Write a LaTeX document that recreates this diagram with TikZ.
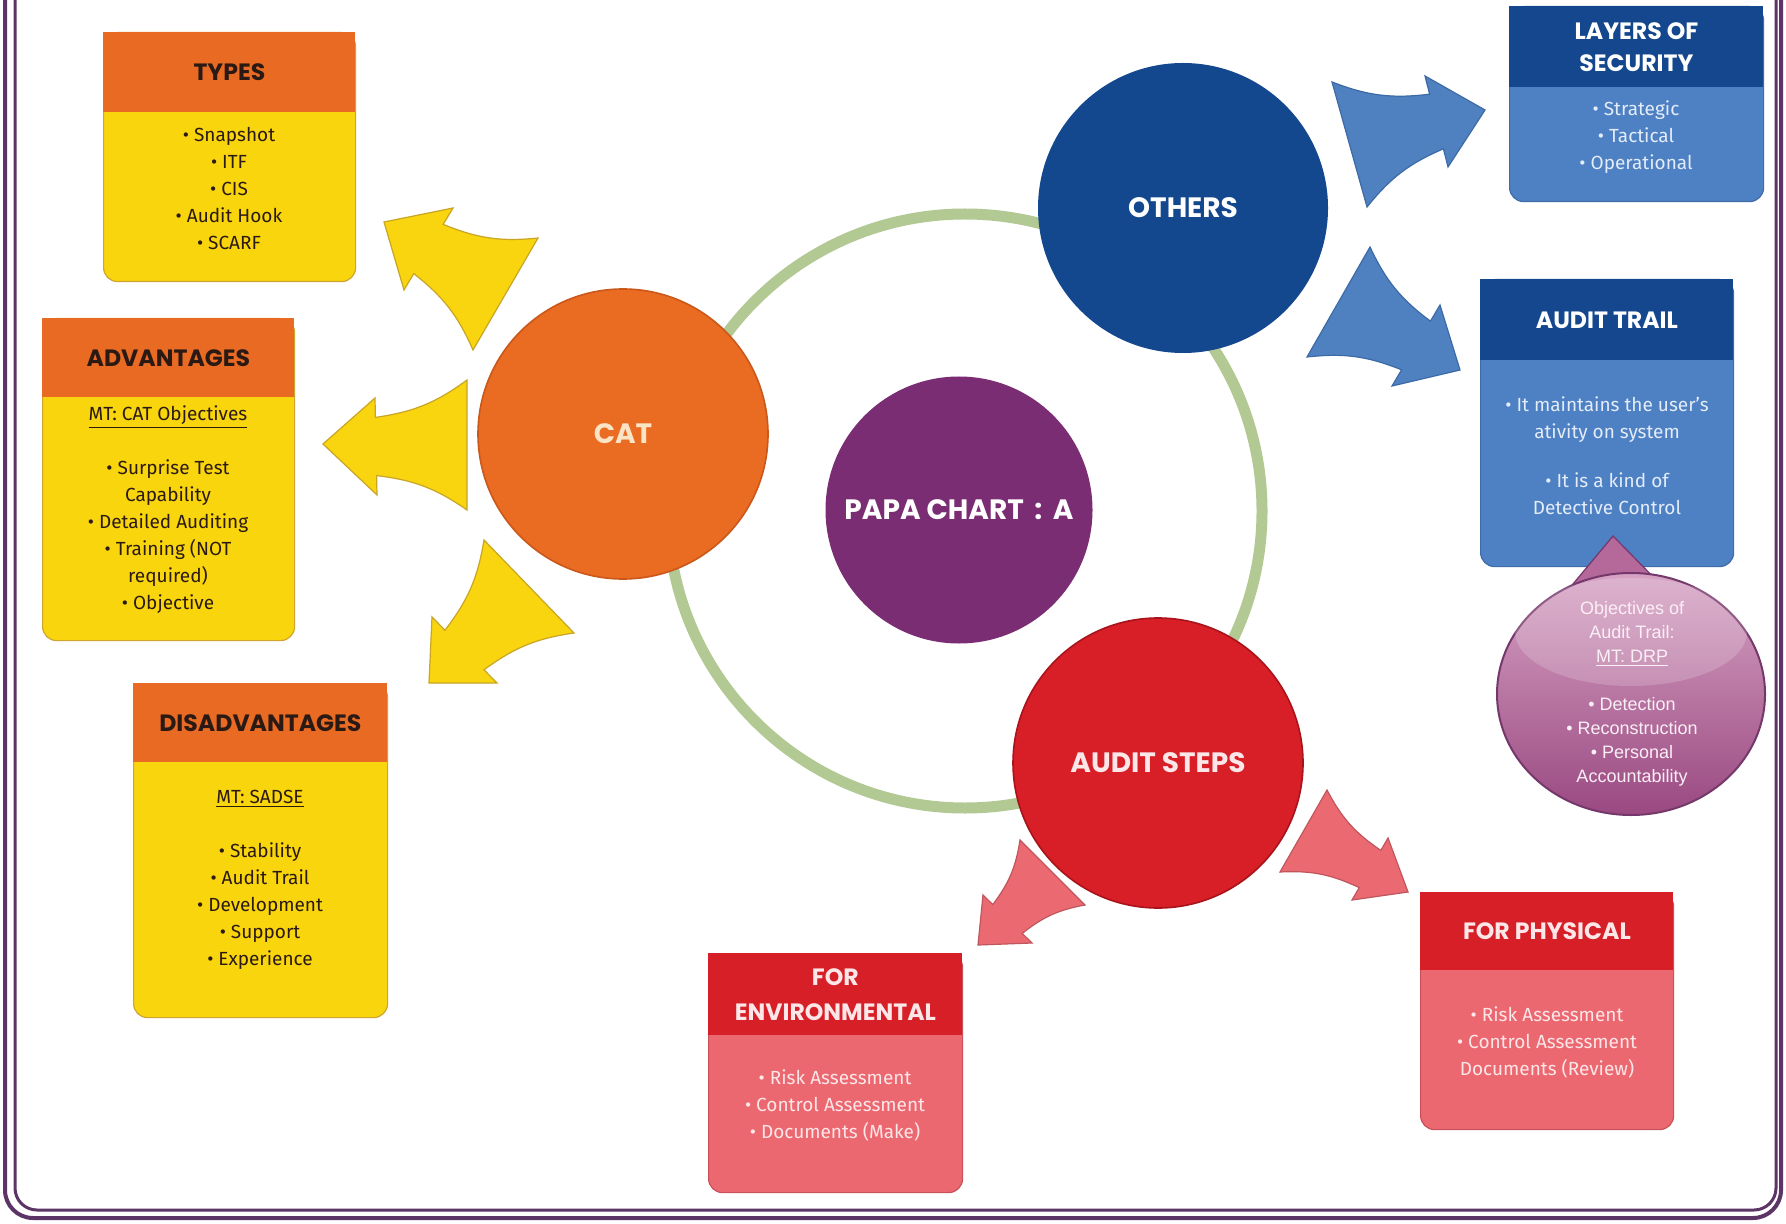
\documentclass[tikz,border=0pt]{standalone}
\usepackage{fontspec}
\setmainfont{Fira Sans}
\newfontfamily\headfont{Poppins}
\newfontfamily\arialfont{Liberation Sans}
\usetikzlibrary{shapes.geometric,calc}
\definecolor{orangeH}{HTML}{E96A23}
\definecolor{yellowB}{HTML}{F9D50E}
\definecolor{yellowE}{HTML}{CFA52E}
\definecolor{darktext}{HTML}{2B1A14}
\definecolor{blueH}{HTML}{14478E}
\definecolor{blueB}{HTML}{4E80C4}
\definecolor{blueE}{HTML}{3E6DAA}
\definecolor{redH}{HTML}{D71F27}
\definecolor{redB}{HTML}{EC6870}
\definecolor{redE}{HTML}{C8525A}
\definecolor{catC}{HTML}{EA6B22}
\definecolor{catE}{HTML}{C9581A}
\definecolor{papaC}{HTML}{7B2D74}
\definecolor{othersC}{HTML}{13488F}
\definecolor{stepsC}{HTML}{D81E26}
\definecolor{stepsE}{HTML}{A8141B}
\definecolor{ringC}{HTML}{B2C993}
\definecolor{frameC}{HTML}{5C3466}
\definecolor{arrowY}{HTML}{F8D50F}
\definecolor{arrowYE}{HTML}{C9A523}
\definecolor{arrowB}{HTML}{4F81C0}
\definecolor{arrowBE}{HTML}{3C6AA6}
\definecolor{arrowR}{HTML}{EB6A72}
\definecolor{arrowRE}{HTML}{C0565D}
\definecolor{bubTop}{HTML}{D6A3C4}
\definecolor{bubBot}{HTML}{9A4981}
\definecolor{bubEdge}{HTML}{74386B}
\definecolor{bubPtr}{HTML}{B5689A}
\definecolor{bubText}{HTML}{FBEFF6}
\definecolor{blueText}{HTML}{E3ECF8}
\definecolor{redText}{HTML}{FCE6E8}
\definecolor{catText}{HTML}{FBE3C6}
\tikzset{
 boxbody/.style={rectangle, rounded corners=7pt, line width=0.6pt, anchor=north west, inner sep=0pt},
 boxhead/.style={rectangle, anchor=north west, inner sep=0pt, align=center, font=\headfont\bfseries\fontsize{11.8}{16}\selectfont},
 bodytext/.style={align=center, inner sep=0pt, font=\fontsize{9.5}{13.5}\selectfont},
 bigcircle/.style={circle, inner sep=0pt, minimum size=145pt, font=\headfont\bfseries\fontsize{14}{16}\selectfont},
 yarrow/.style={fill=arrowY, draw=arrowYE, line width=0.6pt},
 barrow/.style={fill=arrowB, draw=arrowBE, line width=0.6pt},
 rarrow/.style={fill=arrowR, draw=arrowRE, line width=0.6pt},
}
\newcommand\blockarr[6]{\draw[#1] (#2) to[bend right=14] ($(#3)!0.2!(#5)$) -- (#3) -- (#4) -- (#5) -- ($(#5)!0.2!(#3)$) to[bend right=14] (#6) -- cycle;}
\begin{document}
\begin{tikzpicture}[x=0.5pt,y=-0.5pt]
\useasboundingbox (0,0) rectangle (1786,1224);
\fill[white] (0,0) rectangle (1786,1224);
% frame
\draw[frameC, line width=2pt, rounded corners=14pt] (5,-80) rectangle (1781,1218);
\draw[frameC, line width=1.5pt, rounded corners=11pt] (15,-80) rectangle (1776,1210);
% ring
\coordinate (ringc) at (965,511);
\draw[ringC, line width=5.5pt] (ringc) circle[radius=148.5pt];
% circles
\node[bigcircle, fill=catC, draw=catE, line width=0.8pt, text=catText] (cat) at (623,434) {CAT};
\node[bigcircle, fill=othersC, text=white] (others) at (1183,208) {OTHERS};
\node[bigcircle, minimum size=133.5pt, fill=papaC, text=white] (papa) at (959,510) {PAPA CHART \,:\, A};
\node[bigcircle, fill=stepsC, draw=stepsE, line width=0.8pt, text=redText] (steps) at (1158,763) {AUDIT STEPS};
% arrows
\blockarr{yarrow}{473,350}{404,290}{384,222}{453,208}{538,238}
\blockarr{yarrow}{467,510}{377,495}{323,444}{375,398}{467,380}
\blockarr{yarrow}{574,633}{497,683}{429,683}{432,617}{484,540}
\blockarr{barrow}{1332,82}{1425,76}{1485,110}{1448,167}{1367,207}
\blockarr{barrow}{1370,247}{1440,305}{1460,370}{1392,386}{1307,357}
\blockarr{rarrow}{1085,905}{1032,943}{978,945}{983,895}{1020,840}
\blockarr{rarrow}{1327,790}{1388,838}{1408,892}{1352,900}{1280,872}
% TYPES
\node[boxbody, fill=yellowB, draw=yellowE, minimum width=126pt, minimum height=124.5pt] (types) at (103,32) {};
\node[boxhead, fill=orangeH, text=darktext, minimum width=126pt, minimum height=40pt] (typesH) at (103,32) {TYPES};
\node[bodytext, text=darktext] (typesT) at (229,189) {• Snapshot\\• ITF\\• CIS\\• Audit Hook\\• SCARF};
% ADVANTAGES
\node[boxbody, fill=yellowB, draw=yellowE, minimum width=126pt, minimum height=161pt] (adv) at (42,318) {};
\node[boxhead, fill=orangeH, text=darktext, minimum width=126pt, minimum height=39.5pt] (advH) at (42,318) {ADVANTAGES};
\node[bodytext, text=darktext] (advT) at (168,510) {\underline{MT: CAT Objectives}\\[13.5pt]• Surprise Test\\Capability\\• Detailed Auditing\\• Training (NOT\\required)\\• Objective};
% DISADVANTAGES
\node[boxbody, fill=yellowB, draw=yellowE, minimum width=127pt, minimum height=167pt] (disadv) at (133,683) {};
\node[boxhead, fill=orangeH, text=darktext, minimum width=127pt, minimum height=39.5pt] (disadvH) at (133,683) {DISADVANTAGES};
\node[bodytext, text=darktext] (disadvT) at (260,880) {\underline{MT: SADSE}\\[13.5pt]• Stability\\• Audit Trail\\• Development\\• Support\\• Experience};
% LAYERS OF SECURITY
\node[boxbody, fill=blueB, draw=blueE, minimum width=127pt, minimum height=97.5pt] (layers) at (1509,6) {};
\node[boxhead, fill=blueH, text=white, minimum width=127pt, minimum height=40.5pt] (layersH) at (1509,6) {LAYERS OF\\SECURITY};
\node[bodytext, text=blueText] (layersT) at (1636,137) {• Strategic\\• Tactical\\• Operational};
% AUDIT TRAIL
\node[boxbody, fill=blueB, draw=blueE, minimum width=126.5pt, minimum height=143.5pt] (trail) at (1480,279) {};
\node[boxhead, fill=blueH, text=white, minimum width=126.5pt, minimum height=40.5pt] (trailH) at (1480,279) {AUDIT TRAIL};
\node[bodytext, text=blueText] (trailT) at (1607,456) {• It maintains the user's\\ativity on system\\[11pt]• It is a kind of\\Detective Control};
% bubble
\coordinate (ptip) at (1613,536);
\draw[fill=bubPtr, draw=bubEdge, line width=0.6pt] (ptip) -- (1666,590) -- (1558,602) -- cycle;
\node[ellipse, minimum width=134pt, minimum height=121pt, top color=bubTop, bottom color=bubBot, draw=bubEdge, line width=1pt, inner sep=0pt] (bubble) at (1631,694) {};
\fill[white, opacity=0.18] (1631,632) ellipse[x radius=58pt, y radius=27pt];
\node[align=center, inner sep=0pt, text=bubText, font=\arialfont\fontsize{9}{12}\selectfont] (bubbleT) at (1632,694) {Objectives of\\Audit Trail:\\\underline{MT: DRP}\\[12pt]• Detection\\• Reconstruction\\• Personal\\Accountability};
% FOR ENVIRONMENTAL
\node[boxbody, fill=redB, draw=redE, minimum width=127pt, minimum height=119.5pt] (env) at (708,953) {};
\node[boxhead, fill=redH, text=redText, minimum width=127pt, minimum height=41pt, font=\headfont\bfseries\fontsize{11.8}{17.5}\selectfont] (envH) at (708,953) {FOR\\ENVIRONMENTAL};
\node[bodytext, text=redText] (envT) at (835,1105) {• Risk Assessment\\• Control Assessment\\• Documents (Make)};
% FOR PHYSICAL
\node[boxbody, fill=redB, draw=redE, minimum width=126.5pt, minimum height=118.5pt] (phys) at (1420,892) {};
\node[boxhead, fill=redH, text=redText, minimum width=126.5pt, minimum height=39pt] (physH) at (1420,892) {FOR PHYSICAL};
\node[bodytext, text=redText] (physT) at (1547,1042) {• Risk Assessment\\• Control Assessment\\Documents (Review)};
\end{tikzpicture}
\end{document}
